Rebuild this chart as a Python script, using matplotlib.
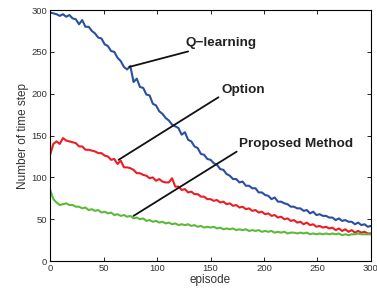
import numpy as np
import matplotlib
matplotlib.use("Agg")
import matplotlib.pyplot as plt

plt.rcParams['font.family'] = ['Liberation Sans', 'DejaVu Sans']

episodes = list(range(0, 301, 3))

q_learning = [297, 296, 295, 293, 295, 292, 294, 290, 289, 283, 288, 280, 280, 275, 272, 267,
              266, 259, 257, 251, 250, 243, 239, 232, 229, 233, 214, 218, 208, 207, 199, 198,
              188, 186, 179, 176, 171, 168, 163, 161, 159, 151, 154, 145, 143, 137, 135, 128,
              127, 122, 121, 117, 115, 110, 109, 104, 102, 98, 98, 94, 95, 90, 90, 87,
              87, 82, 82, 79, 78, 74, 76, 71, 71, 69, 68, 65, 65, 63, 63, 60,
              61, 57, 59, 55, 56, 54, 54, 52, 52, 49, 51, 48, 49, 47, 47, 44,
              46, 43, 44, 41, 42]

option = [127, 140, 143, 140, 147, 144, 143, 142, 141, 137, 137, 133, 133, 132, 131, 129,
          129, 126, 125, 121, 122, 116, 120, 112, 112, 111, 109, 105, 105, 103, 102, 99,
          100, 96, 98, 95, 94, 94, 99, 89, 89, 85, 86, 82, 83, 80, 80, 77,
          77, 74, 74, 72, 73, 70, 71, 68, 69, 66, 67, 64, 65, 62, 63, 60,
          61, 58, 59, 56, 57, 54, 55, 52, 53, 50, 51, 48, 49, 46, 47, 44,
          46, 43, 44, 41, 42, 40, 41, 39, 40, 37, 39, 36, 38, 35, 37, 34,
          36, 34, 35, 33, 33]

proposed = [85, 74, 70, 67, 68, 69, 67, 67, 65, 65, 63, 64, 61, 62, 60, 61,
            58, 59, 57, 58, 55, 56, 54, 55, 53, 54, 51, 52, 50, 51, 48, 49,
            47, 48, 46, 47, 45, 46, 44, 45, 43, 44, 43, 44, 42, 43, 41, 42,
            40, 41, 40, 41, 39, 40, 38, 39, 38, 39, 37, 38, 37, 38, 36, 37,
            36, 37, 35, 36, 35, 36, 34, 35, 34, 35, 33, 34, 34, 33, 34, 33,
            34, 32, 33, 32, 33, 32, 33, 32, 33, 32, 33, 31, 32, 31, 32, 32,
            33, 32, 32, 32, 32]

fig = plt.figure(figsize=(3.77, 2.95), dpi=100)
ax = fig.add_axes([0.133, 0.115, 0.851, 0.851])

ax.plot(episodes, q_learning, color='#2a4ea0', linewidth=1.5)
ax.plot(episodes, option, color='#ee1c25', linewidth=1.5)
ax.plot(episodes, proposed, color='#5cb93a', linewidth=1.5)

ax.set_xlim(0, 300)
ax.set_ylim(0, 300)
ax.set_xticks(range(0, 301, 50))
ax.set_yticks(range(0, 301, 50))
ax.tick_params(direction='in', length=3, width=0.6, top=True, right=True,
               labelsize=6.8, labelcolor='#333333', pad=2)
for s in ax.spines.values():
    s.set_linewidth(0.8)

ax.set_xlabel('episode', fontsize=8.5, color='#333333', labelpad=1)
ax.set_ylabel('Number of time step', fontsize=8.5, color='#333333', labelpad=2)

# annotations
ax.annotate('Q\u2212learning', xy=(74, 232), xytext=(127, 261), fontsize=9.7,
            fontweight='bold', color='#222222', va='center', ha='left',
            arrowprops=dict(arrowstyle='-', color='#111111', lw=1.3, shrinkA=0, shrinkB=0))
ax.annotate('Option', xy=(64, 121), xytext=(160, 205), fontsize=9.7,
            fontweight='bold', color='#222222', va='center', ha='left',
            arrowprops=dict(arrowstyle='-', color='#111111', lw=1.3, shrinkA=0, shrinkB=0,
                            relpos=(0, 0)))
ax.annotate('Proposed Method', xy=(78, 54), xytext=(177, 140), fontsize=9.7,
            fontweight='bold', color='#222222', va='center', ha='left',
            arrowprops=dict(arrowstyle='-', color='#111111', lw=1.3, shrinkA=0, shrinkB=0,
                            relpos=(0, 0)))

fig.savefig('out.png', dpi=100)
